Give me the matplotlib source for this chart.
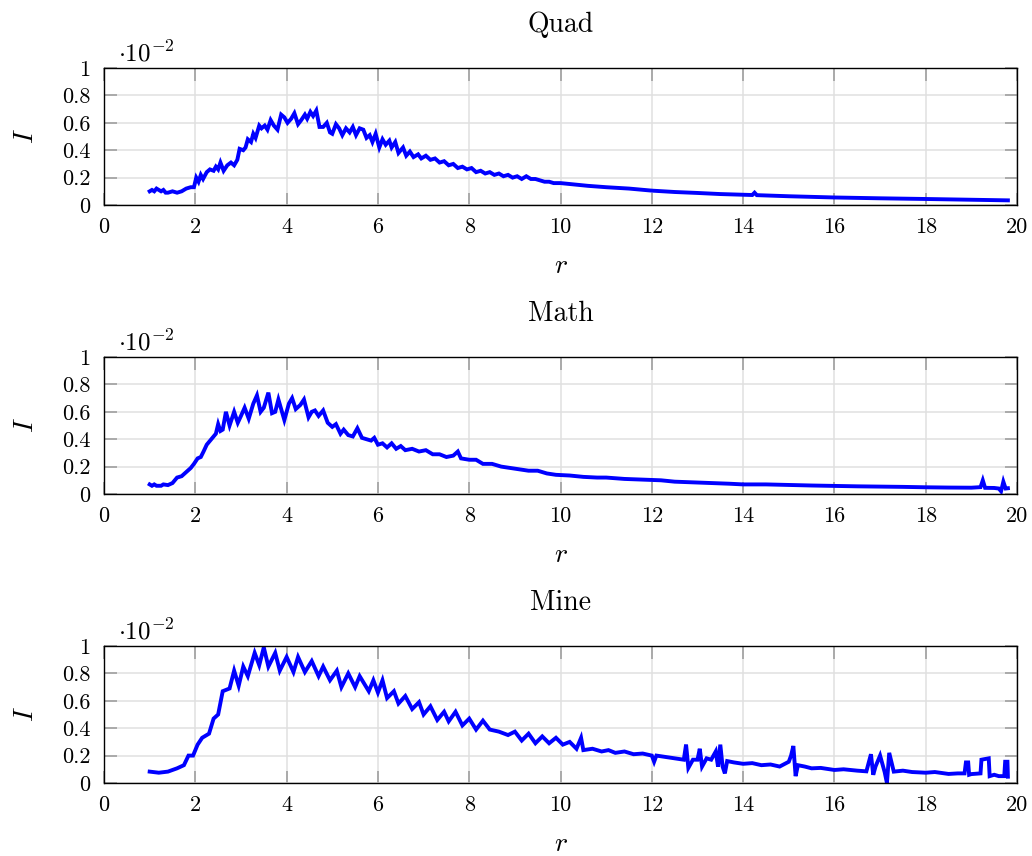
import matplotlib
matplotlib.use('Agg')
import matplotlib.pyplot as plt

plt.rcParams['font.family'] = 'serif'
plt.rcParams['font.serif'] = ['cmr10', 'DejaVu Serif']
plt.rcParams['mathtext.fontset'] = 'cm'
plt.rcParams['axes.unicode_minus'] = False
plt.rcParams['axes.formatter.use_mathtext'] = True

titles = ['Quad', 'Math', 'Mine']

# Quad
r_quad = [1.00, 1.05, 1.10, 1.15, 1.20, 1.25, 1.30, 1.35, 1.40, 1.50, 1.60, 1.70, 1.80, 1.90, 1.97,
          2.02, 2.07, 2.12, 2.17, 2.25, 2.32, 2.40, 2.45, 2.50, 2.55, 2.62, 2.70, 2.78, 2.85, 2.92,
          2.97, 3.05, 3.10, 3.15, 3.22, 3.27, 3.32, 3.40, 3.45, 3.52, 3.58, 3.65, 3.72, 3.80, 3.88,
          3.95, 4.02, 4.10, 4.17, 4.25, 4.32, 4.40, 4.45, 4.52, 4.58, 4.65, 4.72, 4.80, 4.88, 4.95,
          5.00, 5.08, 5.15, 5.22, 5.30, 5.38, 5.45, 5.52, 5.60, 5.68, 5.75, 5.82, 5.88, 5.95, 6.03,
          6.10, 6.17, 6.25, 6.30, 6.38, 6.45, 6.55, 6.62, 6.70, 6.78, 6.88, 6.95, 7.05, 7.15, 7.25,
          7.35, 7.45, 7.55, 7.65, 7.75, 7.85, 7.95, 8.05, 8.15, 8.25, 8.35, 8.45, 8.55, 8.65, 8.75,
          8.85, 8.95, 9.05, 9.15, 9.25, 9.35, 9.45, 9.55, 9.65, 9.75, 9.85, 10.0, 10.3, 10.6, 11.0,
          11.5, 12.0, 12.5, 13.0, 13.5, 14.0, 14.2, 14.25, 14.3, 15.0, 16.0, 17.0, 18.0, 19.0, 19.8]
I_quad = [0.10, 0.11, 0.10, 0.12, 0.11, 0.10, 0.11, 0.09, 0.09, 0.10, 0.09, 0.10, 0.12, 0.13, 0.13,
          0.20, 0.17, 0.22, 0.19, 0.24, 0.26, 0.25, 0.28, 0.26, 0.31, 0.25, 0.29, 0.31, 0.29, 0.33,
          0.41, 0.40, 0.42, 0.48, 0.46, 0.52, 0.49, 0.58, 0.56, 0.58, 0.55, 0.62, 0.58, 0.55, 0.66,
          0.64, 0.60, 0.63, 0.67, 0.59, 0.62, 0.66, 0.63, 0.68, 0.65, 0.69, 0.57, 0.57, 0.60, 0.53,
          0.52, 0.59, 0.56, 0.51, 0.56, 0.53, 0.57, 0.51, 0.56, 0.55, 0.49, 0.51, 0.46, 0.52, 0.42,
          0.48, 0.44, 0.47, 0.42, 0.46, 0.38, 0.42, 0.36, 0.39, 0.35, 0.37, 0.34, 0.36, 0.33, 0.34,
          0.31, 0.32, 0.29, 0.30, 0.27, 0.28, 0.26, 0.27, 0.24, 0.25, 0.23, 0.24, 0.22, 0.23, 0.21,
          0.22, 0.20, 0.21, 0.19, 0.21, 0.19, 0.19, 0.18, 0.17, 0.17, 0.16, 0.16, 0.15, 0.14, 0.13,
          0.12, 0.105, 0.095, 0.088, 0.080, 0.075, 0.073, 0.090, 0.072, 0.064, 0.055, 0.049, 0.044, 0.038, 0.034]

# Math
r_math = [1.00, 1.05, 1.10, 1.15, 1.25, 1.30, 1.40, 1.50, 1.60, 1.70, 1.80, 1.90, 1.97, 2.05, 2.12,
          2.18, 2.25, 2.35, 2.45, 2.50, 2.55, 2.60, 2.67, 2.75, 2.85, 2.93, 3.00, 3.08, 3.17, 3.27,
          3.35, 3.43, 3.50, 3.60, 3.68, 3.75, 3.82, 3.95, 4.05, 4.12, 4.20, 4.30, 4.38, 4.48, 4.55,
          4.62, 4.70, 4.80, 4.90, 5.00, 5.08, 5.18, 5.25, 5.35, 5.45, 5.55, 5.65, 5.75, 5.85, 5.92,
          6.00, 6.10, 6.20, 6.30, 6.40, 6.50, 6.60, 6.75, 6.90, 7.05, 7.20, 7.35, 7.50, 7.65, 7.75,
          7.82, 8.00, 8.15, 8.30, 8.50, 8.70, 8.90, 9.10, 9.30, 9.50, 9.70, 9.90, 10.2, 10.5, 10.8,
          11.0, 11.4, 11.8, 12.2, 12.5, 12.9, 13.3, 13.7, 14.0, 14.5, 15.0, 15.5, 16.0, 16.5, 17.0,
          17.5, 18.0, 18.5, 19.0, 19.2, 19.25, 19.3, 19.5, 19.6, 19.65, 19.7, 19.75, 19.8]
I_math = [0.07, 0.06, 0.07, 0.06, 0.06, 0.07, 0.065, 0.08, 0.12, 0.13, 0.16, 0.19, 0.22, 0.26, 0.27,
          0.31, 0.36, 0.40, 0.44, 0.51, 0.46, 0.47, 0.60, 0.50, 0.60, 0.52, 0.57, 0.63, 0.55, 0.66,
          0.72, 0.60, 0.63, 0.74, 0.59, 0.60, 0.69, 0.54, 0.66, 0.70, 0.62, 0.65, 0.69, 0.56, 0.60,
          0.61, 0.57, 0.61, 0.52, 0.49, 0.51, 0.44, 0.47, 0.43, 0.42, 0.48, 0.41, 0.40, 0.39, 0.41,
          0.36, 0.37, 0.34, 0.37, 0.33, 0.35, 0.32, 0.33, 0.31, 0.32, 0.29, 0.29, 0.27, 0.28, 0.31,
          0.26, 0.25, 0.25, 0.22, 0.22, 0.20, 0.19, 0.18, 0.17, 0.17, 0.15, 0.14, 0.135, 0.125, 0.12,
          0.12, 0.11, 0.105, 0.10, 0.09, 0.085, 0.08, 0.075, 0.07, 0.07, 0.066, 0.062, 0.059, 0.056, 0.054,
          0.052, 0.049, 0.047, 0.046, 0.05, 0.10, 0.045, 0.044, 0.04, 0.02, 0.09, 0.04, 0.042]

# Mine
r_mine = [1.00, 1.20, 1.40, 1.60, 1.75, 1.85, 1.95, 2.05, 2.15, 2.30, 2.40, 2.50, 2.60, 2.75, 2.85,
          2.95, 3.05, 3.15, 3.30, 3.40, 3.50, 3.60, 3.75, 3.85, 4.00, 4.15, 4.25, 4.40, 4.55, 4.70,
          4.80, 4.95, 5.10, 5.20, 5.35, 5.50, 5.60, 5.80, 5.90, 6.00, 6.10, 6.20, 6.35, 6.45, 6.60,
          6.75, 6.90, 7.00, 7.15, 7.30, 7.45, 7.55, 7.70, 7.85, 8.00, 8.15, 8.30, 8.45, 8.65, 8.85,
          9.00, 9.15, 9.30, 9.45, 9.60, 9.75, 9.90, 10.05, 10.2, 10.35, 10.45, 10.5, 10.7, 10.9, 11.05,
          11.2, 11.4, 11.6, 11.8, 12.0, 12.05, 12.1, 12.3, 12.5, 12.7, 12.75, 12.8, 12.9, 13.0, 13.05,
          13.1, 13.2, 13.3, 13.4, 13.45, 13.5, 13.55, 13.6, 13.65, 13.8, 14.0, 14.2, 14.4, 14.6, 14.8,
          15.0, 15.05, 15.1, 15.15, 15.2, 15.35, 15.5, 15.7, 16.0, 16.2, 16.5, 16.7, 16.8, 16.85, 16.9,
          17.0, 17.1, 17.15, 17.2, 17.3, 17.5, 17.7, 18.0, 18.2, 18.5, 18.7, 18.85, 18.88, 18.93, 18.95,
          19.0, 19.2, 19.22, 19.38, 19.4, 19.5, 19.6, 19.72, 19.74, 19.79, 19.8]
I_mine = [0.083, 0.075, 0.083, 0.107, 0.13, 0.20, 0.20, 0.28, 0.33, 0.36, 0.47, 0.50, 0.67, 0.69, 0.82,
          0.71, 0.85, 0.78, 0.95, 0.86, 0.99, 0.85, 0.95, 0.82, 0.92, 0.81, 0.92, 0.81, 0.89, 0.78,
          0.85, 0.75, 0.82, 0.70, 0.80, 0.70, 0.78, 0.67, 0.75, 0.66, 0.75, 0.62, 0.67, 0.58, 0.635,
          0.54, 0.59, 0.50, 0.56, 0.46, 0.52, 0.45, 0.52, 0.42, 0.47, 0.39, 0.455, 0.39, 0.375, 0.35,
          0.375, 0.31, 0.36, 0.29, 0.34, 0.29, 0.33, 0.28, 0.30, 0.25, 0.33, 0.24, 0.25, 0.23, 0.24,
          0.22, 0.23, 0.21, 0.215, 0.20, 0.155, 0.20, 0.19, 0.18, 0.17, 0.28, 0.11, 0.17, 0.17, 0.25,
          0.12, 0.18, 0.17, 0.23, 0.12, 0.28, 0.12, 0.07, 0.16, 0.15, 0.14, 0.145, 0.13, 0.135, 0.12,
          0.155, 0.20, 0.27, 0.05, 0.13, 0.12, 0.107, 0.11, 0.095, 0.10, 0.09, 0.085, 0.21, 0.06, 0.12,
          0.20, 0.08, 0.00, 0.22, 0.083, 0.09, 0.08, 0.075, 0.08, 0.066, 0.07, 0.07, 0.15, 0.15, 0.06,
          0.065, 0.07, 0.17, 0.18, 0.05, 0.06, 0.05, 0.05, 0.155, 0.155, 0.046]

series = [(r_quad, I_quad), (r_math, I_math), (r_mine, I_mine)]

xticks = list(range(0, 21, 2))
yticks = [0, 0.2, 0.4, 0.6, 0.8, 1]
ytick_labels = ['0', '0.2', '0.4', '0.6', '0.8', '1']

fig = plt.figure(figsize=(10.32, 8.56), dpi=100)
bottoms = [0.7605, 0.4229, 0.0853]
for k in range(3):
    ax = fig.add_axes([0.1008, bottoms[k], 0.8847, 0.160])
    r, I = series[k]
    ax.plot(r, I, color='#0000ff', linewidth=2.8, solid_joinstyle='miter')
    ax.set_xlim(0, 20)
    ax.set_ylim(0, 1)
    ax.set_xticks(xticks)
    ax.set_xticklabels([str(t) for t in xticks])
    ax.set_yticks(yticks)
    ax.set_yticklabels(ytick_labels)
    ax.grid(True, color='#e0e0e0', linewidth=1.1)
    ax.set_axisbelow(True)
    ax.tick_params(direction='in', top=True, right=True, length=9, width=1.1,
                   color='#999999', labelsize=16)
    ax.tick_params(axis='x', pad=9)
    ax.tick_params(axis='y', pad=10)
    for s in ax.spines.values():
        s.set_linewidth(1.0)
    ax.set_title(titles[k], fontsize=20, pad=26)
    ax.set_xlabel('$r$', fontsize=20, labelpad=11)
    ax.set_ylabel('$I$', fontsize=20, labelpad=16)
    ax.text(0.015, 1.01, r'$\cdot 10^{-2}$', transform=ax.transAxes,
            ha='left', va='bottom', fontsize=18)

plt.savefig('out.png', dpi=100)
